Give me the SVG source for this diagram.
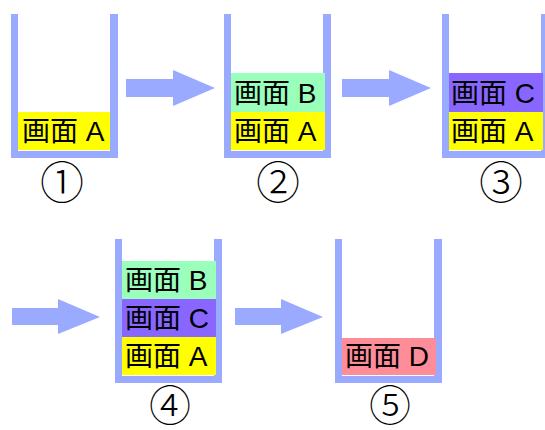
<svg xmlns="http://www.w3.org/2000/svg" width="545" height="430" viewBox="0 0 545 430">
<defs>
<style>
.wall{fill:#99aaff}
.arrow{fill:#99aaff}
.a{fill:#ffff00}
.b{fill:#99ffbb}
.c{fill:#8866ff}
.d{fill:#ff8c99}
.lbl{font-family:"Liberation Sans","Noto Sans CJK JP",sans-serif;font-size:28px;fill:#000}
.num{font-family:"Noto Sans CJK JP","DejaVu Sans",sans-serif;font-size:44px;font-weight:300;fill:#000;text-anchor:middle}
.num2{font-size:42px}
</style>
<path id="cup" d="M0 0h7v137h92v-137h8v144h-107z"/>
</defs>
<rect width="545" height="430" fill="#fff"/>
<g id="connectors">
<polygon class="arrow" points="126,79 173,79 173,70 215,88 173,106 173,97 126,97"/>
<polygon class="arrow" points="342,79 389,79 389,70 431,88 389,106 389,97 342,97"/>
<polygon class="arrow" points="12,308 58,308 58,299 100,317 58,334 58,325 12,325"/>
<polygon class="arrow" points="235,308 281,308 281,299 323,317 281,334 281,325 235,325"/>
</g>
<g id="stack1">
<use href="#cup" class="wall" x="11" y="14"/>
<rect class="a" x="18" y="112" width="92" height="38"/>
<text class="lbl" x="22" y="141">画面 A</text>
<text class="num" x="62" y="199">①</text>
</g>
<g id="stack2">
<use href="#cup" class="wall" x="224" y="14"/>
<rect class="b" x="231" y="73" width="94" height="39"/>
<rect class="a" x="231" y="112" width="94" height="38"/>
<text class="lbl" x="234" y="103">画面 B</text>
<text class="lbl" x="234" y="141">画面 A</text>
<text class="num" x="278" y="199">②</text>
</g>
<g id="stack3">
<use href="#cup" class="wall" x="442" y="14"/>
<rect class="c" x="449" y="73" width="94" height="39"/>
<rect class="a" x="449" y="112" width="94" height="38"/>
<text class="lbl" x="451" y="103">画面 C</text>
<text class="lbl" x="451" y="141">画面 A</text>
<text class="num" x="501" y="199">③</text>
</g>
<g id="stack4">
<use href="#cup" class="wall" x="115" y="239"/>
<rect class="b" x="122" y="261" width="94" height="38"/>
<rect class="c" x="122" y="299" width="94" height="38"/>
<rect class="a" x="122" y="337" width="94" height="38"/>
<text class="lbl" x="125" y="290">画面 B</text>
<text class="lbl" x="125" y="328">画面 C</text>
<text class="lbl" x="125" y="366">画面 A</text>
<text class="num num2" x="170" y="421">④</text>
</g>
<g id="stack5">
<use href="#cup" class="wall" x="335" y="239"/>
<rect class="d" x="342" y="338" width="94" height="37"/>
<text class="lbl" x="345" y="366">画面 D</text>
<text class="num num2" x="390" y="421">⑤</text>
</g>
</svg>
